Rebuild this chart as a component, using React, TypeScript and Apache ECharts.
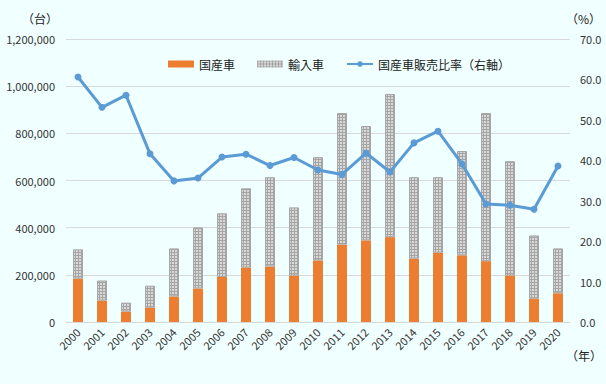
import React, { useEffect, useRef } from "react";
import * as echarts from "echarts";

const years = ["2000","2001","2002","2003","2004","2005","2006","2007","2008","2009","2010","2011","2012","2013","2014","2015","2016","2017","2018","2019","2020"];
const domestic = [184000, 91000, 44000, 61000, 108000, 142000, 191000, 231000, 235000, 197000, 261000, 328000, 346000, 360000, 269000, 294000, 283000, 258000, 197000, 99000, 122000];
const totals = [308000, 176000, 82000, 154000, 312000, 401000, 461000, 567000, 614000, 486000, 699000, 886000, 831000, 967000, 614000, 614000, 725000, 886000, 682000, 367000, 312000];
const imported = totals.map((t, i) => t - domestic[i]);
const shareRatio = [60.6, 53.1, 56.1, 41.6, 34.9, 35.6, 40.8, 41.5, 38.7, 40.7, 37.6, 36.5, 41.8, 37.1, 44.3, 47.2, 39.1, 29.2, 28.9, 27.9, 38.6];
const leftTicks = { min: 0, max: 1200000, interval: 200000 };
const rightTicks = { min: 0, max: 70, interval: 10 };

const FONT = "'Noto Sans CJK JP', 'Noto Sans', sans-serif";

function makePattern() {
  const c = document.createElement("canvas");
  c.width = 3;
  c.height = 3;
  const ctx = c.getContext("2d")!;
  ctx.fillStyle = "#d9d9d9";
  ctx.fillRect(0, 0, 3, 3);
  ctx.fillStyle = "#a5a5a5";
  ctx.fillRect(0, 0, 3, 1);
  ctx.fillRect(0, 0, 1, 3);
  return c;
}

export default function App() {
  const ref = useRef<HTMLDivElement>(null);
  useEffect(() => {
    document.body.style.margin = "0";
    const chart = echarts.init(ref.current!, null, { renderer: "svg" });
    const pattern = { image: makePattern(), repeat: "repeat", imageWidth: 3, imageHeight: 3 };
    chart.setOption({
      animation: false,
      backgroundColor: "#F0FFFF",
      textStyle: { fontFamily: FONT },
      grid: { left: 66, right: 36, top: 39, bottom: 62 },
      legend: {
        left: 163,
        top: 53,
        itemGap: 22,
        textStyle: { fontSize: 12, color: "#1a1a1a", fontFamily: FONT },
        data: [
          { name: "国産車", icon: "rect", itemStyle: { color: "#ED7D31" } },
          { name: "輸入車", icon: "rect", itemStyle: { color: pattern, borderWidth: 0 } },
          { name: "国産車販売比率（右軸）" },
        ],
        itemWidth: 26,
        itemHeight: 7,
      },
      xAxis: {
        type: "category",
        data: years,
        axisLine: { lineStyle: { color: "#d9d9d9" } },
        axisTick: { show: false },
        axisLabel: { rotate: 45, fontSize: 11, color: "#333", margin: 8, fontFamily: FONT },
      },
      yAxis: [
        {
          type: "value",
          ...leftTicks,
          axisLabel: {
            fontSize: 11,
            color: "#333",
            margin: 11,
            fontFamily: FONT,
            formatter: (v: number) => v.toLocaleString("en-US"),
          },
          splitLine: { lineStyle: { color: "#d9d9d9" } },
          axisLine: { show: false },
          axisTick: { show: false },
        },
        {
          type: "value",
          ...rightTicks,
          position: "right",
          axisLabel: {
            fontSize: 11,
            color: "#333",
            margin: 10,
            fontFamily: FONT,
            formatter: (v: number) => v.toFixed(1),
          },
          splitLine: { show: false },
          axisLine: { show: false },
          axisTick: { show: false },
        },
      ],
      graphic: [
        { type: "text", left: 22, top: 12, style: { text: "（台）", fill: "#222", font: "12px " + FONT } },
        { type: "text", left: 566, top: 12, style: { text: "（%）", fill: "#222", font: "12px " + FONT } },
        { type: "text", left: 566, top: 349, style: { text: "（年）", fill: "#222", font: "12px " + FONT } },
      ],
      series: [
        {
          name: "国産車",
          type: "bar",
          stack: "cars",
          data: domestic,
          barWidth: 10,
          itemStyle: { color: "#ED7D31" },
        },
        {
          name: "輸入車",
          type: "bar",
          stack: "cars",
          data: imported,
          barWidth: 10,
          itemStyle: { color: pattern, borderColor: "#a5a5a5", borderWidth: 1 },
        },
        {
          name: "国産車販売比率（右軸）",
          type: "line",
          yAxisIndex: 1,
          data: shareRatio,
          symbol: "circle",
          symbolSize: 7,
          lineStyle: { color: "#5B9BD5", width: 3 },
          itemStyle: { color: "#5B9BD5" },
        },
      ],
    });
    return () => chart.dispose();
  }, []);
  return <div ref={ref} style={{ position: "absolute", left: 0, top: 0, width: 606, height: 384 }} />;
}
